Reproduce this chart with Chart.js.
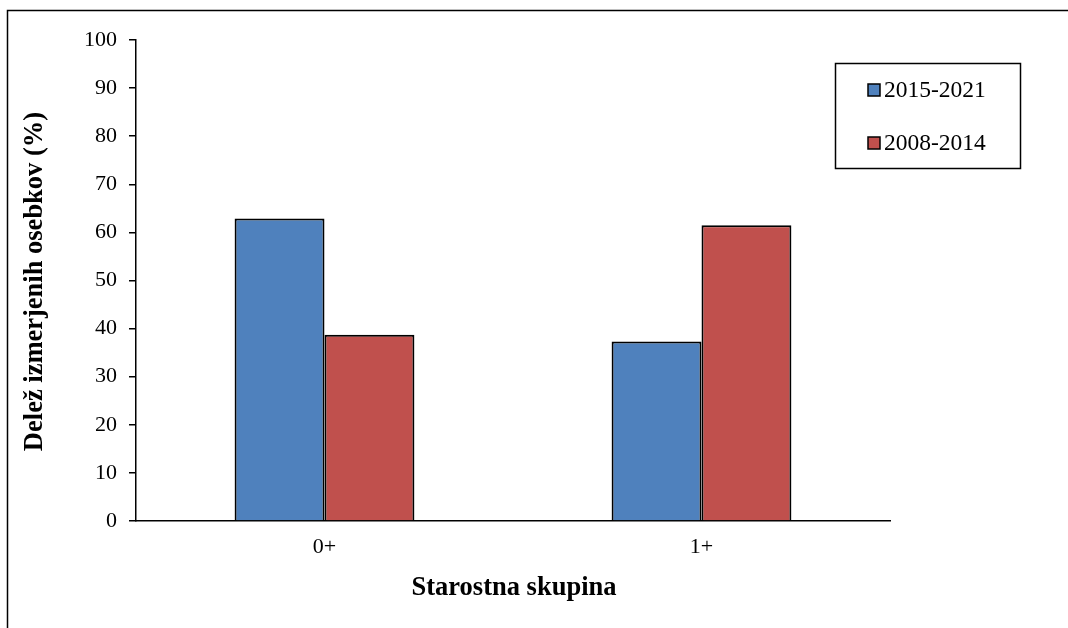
<!DOCTYPE html>
<html>
<head>
<meta charset="utf-8">
<script src="https://cdn.jsdelivr.net/npm/chart.js@4.4.0/dist/chart.umd.min.js"></script>
<style>
html,body{margin:0;padding:0;background:#fff;}
#wrap{position:relative;width:1068px;height:628px;}
</style>
</head>
<body>
<div id="wrap"><canvas id="c" width="1068" height="628"></canvas></div>
<script>
const categories = ["0+", "1+"];
const series2015_2021 = [62.9, 37.3];
const series2008_2014 = [38.7, 61.5];
const seriesLabels = ["2015-2021", "2008-2014"];
const yTicksMin = 0, yTicksMax = 100, yTickStep = 10;
const yTitle = "Delež izmerjenih osebkov (%)";
const xTitle = "Starostna skupina";

const FONT = "'Liberation Serif', 'Times New Roman', serif";

const framePlugin = {
  id: 'frame',
  beforeDraw(chart) {
    const ctx = chart.ctx;
    ctx.save();
    ctx.fillStyle = '#fff';
    ctx.fillRect(0, 0, chart.width, chart.height);
    ctx.strokeStyle = '#000';
    ctx.lineWidth = 1.5;
    ctx.beginPath();
    ctx.moveTo(7.5, chart.height + 5);
    ctx.lineTo(7.5, 10.5);
    ctx.lineTo(chart.width + 5, 10.5);
    ctx.stroke();
    ctx.restore();
  },
  afterDraw(chart) {
    const ctx = chart.ctx;
    const ca = chart.chartArea;
    ctx.save();
    // axis titles
    ctx.fillStyle = '#000';
    ctx.font = "bold 26.5px " + FONT;
    ctx.textAlign = 'center';
    ctx.textBaseline = 'middle';
    ctx.fillText(xTitle, (ca.left + ca.right) / 2 + 1, 588);
    ctx.translate(35, (ca.top + ca.bottom) / 2 + 1);
    ctx.rotate(-Math.PI / 2);
    ctx.fillText(yTitle, 0, 0);
    ctx.restore();

    // legend
    ctx.save();
    ctx.strokeStyle = '#000';
    ctx.lineWidth = 1.5;
    ctx.strokeRect(835.5, 63.5, 185, 105);
    ctx.font = "23.5px " + FONT;
    ctx.textAlign = 'left';
    ctx.textBaseline = 'middle';
    const ys = [90, 143];
    chart.data.datasets.forEach((ds, i) => {
      const y = ys[i];
      ctx.fillStyle = ds.backgroundColor;
      ctx.fillRect(868, y - 6, 12, 12);
      ctx.lineWidth = 1.5;
      ctx.strokeRect(868, y - 6, 12, 12);
      ctx.fillStyle = '#000';
      ctx.fillText(ds.label, 884, y + 1);
    });
    ctx.restore();
  }
};

new Chart(document.getElementById('c'), {
  type: 'bar',
  data: {
    labels: categories,
    datasets: [
      { label: seriesLabels[0], data: series2015_2021, backgroundColor: '#4F81BD', borderColor: '#000', borderWidth: 2 },
      { label: seriesLabels[1], data: series2008_2014, backgroundColor: '#C0504D', borderColor: '#000', borderWidth: 2 }
    ]
  },
  options: {
    responsive: false,
    animation: false,
    devicePixelRatio: 1,
    layout: { padding: { left: 0, right: 178, top: 40, bottom: 0 } },
    categoryPercentage: 0.477,
    barPercentage: 1.0,
    plugins: { legend: { display: false }, tooltip: { enabled: false }, title: { display: false } },
    scales: {
      x: {
        grid: { display: false, drawTicks: false },
        border: { display: true, color: '#000', width: 1.5 },
        ticks: { color: '#000', font: { family: FONT, size: 22 }, padding: 13 },
        afterFit(scale) { scale.height = 107; }
      },
      y: {
        min: yTicksMin, max: yTicksMax,
        grid: { display: true, drawOnChartArea: false, drawTicks: true, tickLength: 7, color: '#000', lineWidth: 1.5 },
        border: { display: true, color: '#000', width: 1.5 },
        ticks: { stepSize: yTickStep, color: '#000', font: { family: FONT, size: 22 }, padding: 12 },
        afterFit(scale) { scale.width = 136; }
      }
    }
  },
  plugins: [framePlugin]
});
</script>
</body>
</html>
